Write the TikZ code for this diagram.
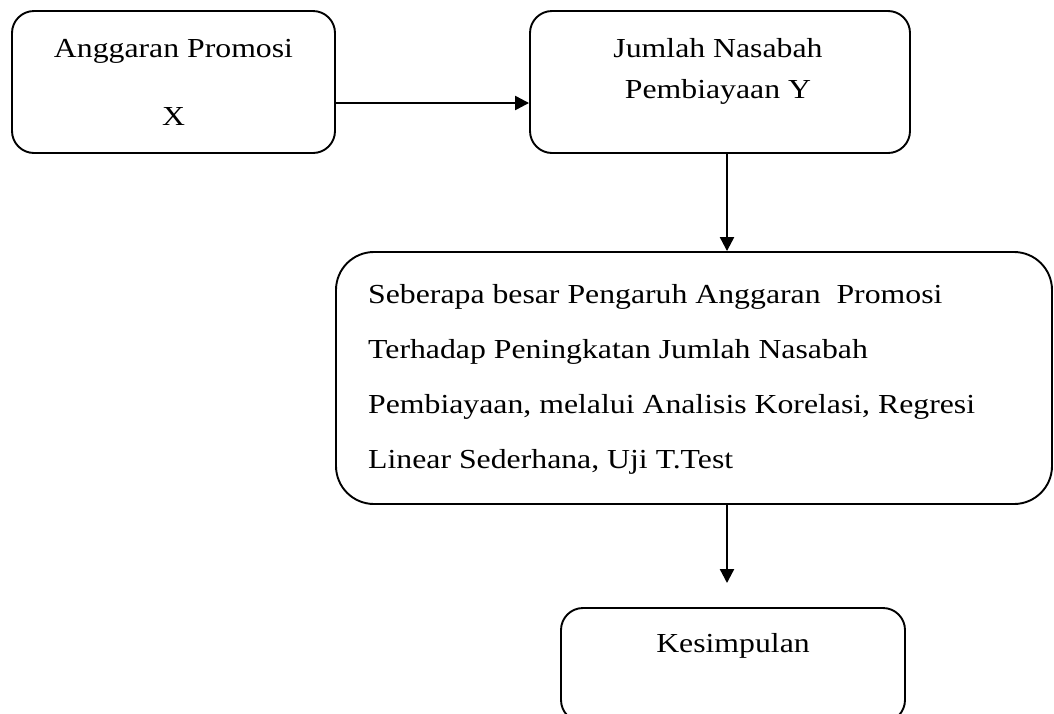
\documentclass[tikz,border=0pt]{standalone}
\usepackage{fontspec}
\setmainfont{Liberation Serif}[FakeStretch=1.155]
\usetikzlibrary{arrows.meta}
\tikzset{
  box/.style={draw=black, line width=1.9pt, rounded corners=22pt, inner sep=0pt, fill=none},
  bigbox/.style={box, rounded corners=38pt},
  lbl/.style={inner sep=0pt, anchor=base, font=\fontsize{27.5}{32}\selectfont},
  lbll/.style={lbl, anchor=base west},
  arr/.style={line width=2.3pt, -{Triangle[length=14pt,width=14pt]}}
}
\begin{document}
\begin{tikzpicture}[x=1pt,y=-1pt]
\useasboundingbox (0,0) rectangle (1054,713);
\clip (0,0) rectangle (1054,713);
% boxes
\node[box, minimum width=323pt, minimum height=142pt] (A) at (173.5,82) {};
\node[box, minimum width=380pt, minimum height=142pt] (B) at (720,82) {};
\node[bigbox, minimum width=716pt, minimum height=252pt] (C) at (694,378) {};
\node[box, minimum width=344pt, minimum height=114pt] (D) at (733,665) {};
% texts
\node[lbl] (a1) at (173.5,57) {Anggaran Promosi};
\node[lbl] (a2) at (173.5,125) {X};
\node[lbl] (b1) at (718,57) {Jumlah Nasabah};
\node[lbl] (b2) at (718,98) {Pembiayaan Y};
\node[lbll] (c1) at (368,303) {Seberapa besar Pengaruh Anggaran\ \ Promosi};
\node[lbll] (c2) at (368,358) {Terhadap Peningkatan Jumlah Nasabah};
\node[lbll] (c3) at (368,413) {Pembiayaan, melalui Analisis Korelasi, Regresi};
\node[lbll] (c4) at (368,468) {Linear Sederhana, Uji T.Test};
\node[lbl] (d1) at (733,652) {Kesimpulan};
% connectors
\coordinate (ay) at (0,103);
\coordinate (vx) at (727,0);
\coordinate (dend) at (727,583);
\draw[arr] (A.east |- ay) -- (B.west |- ay);
\draw[arr] (B.south -| vx) -- (C.north -| vx);
\draw[arr] (C.south -| vx) -- (dend);
\end{tikzpicture}
\end{document}
